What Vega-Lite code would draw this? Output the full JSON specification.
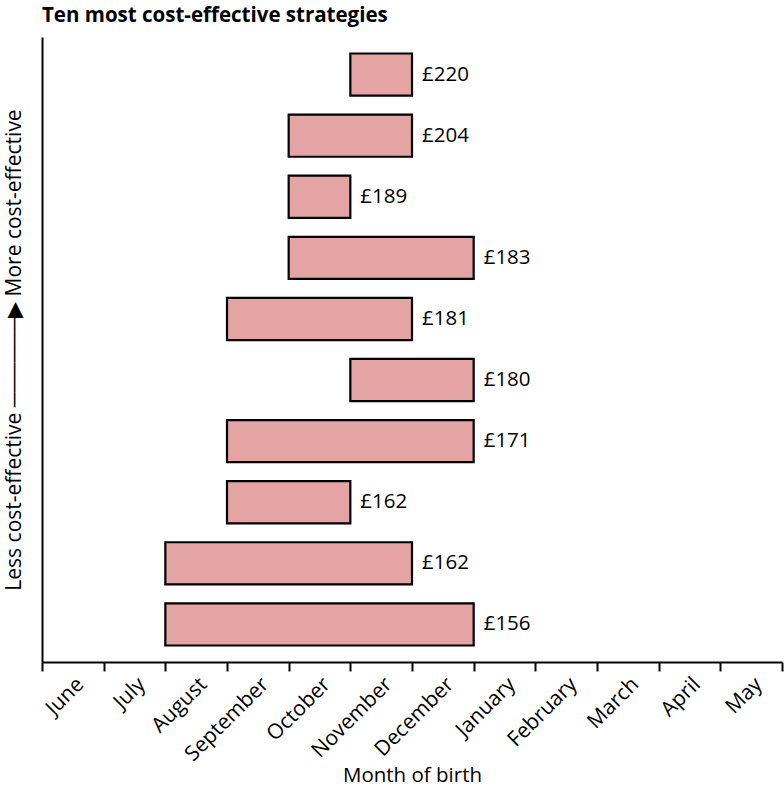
{
  "$schema": "https://vega.github.io/schema/vega-lite/v6.json",
  "width": 740,
  "height": 625,
  "autosize": "none",
  "padding": {"left": 42, "top": 37, "right": 2, "bottom": 128},
  "background": "white",
  "title": {"text": "Ten most cost-effective strategies", "anchor": "start", "frame": "group", "fontSize": 20.5, "font": "Open Sans", "fontWeight": "bold", "offset": 11, "color": "black"},
  "config": {"view": {"stroke": null}, "font": "Open Sans"},
  "data": {"values": [
    {"rank": 1, "cost": "£220", "start": 5, "end": 6},
    {"rank": 2, "cost": "£204", "start": 4, "end": 6},
    {"rank": 3, "cost": "£189", "start": 4, "end": 5},
    {"rank": 4, "cost": "£183", "start": 4, "end": 7},
    {"rank": 5, "cost": "£181", "start": 3, "end": 6},
    {"rank": 6, "cost": "£180", "start": 5, "end": 7},
    {"rank": 7, "cost": "£171", "start": 3, "end": 7},
    {"rank": 8, "cost": "£162", "start": 3, "end": 5},
    {"rank": 9, "cost": "£162", "start": 2, "end": 6},
    {"rank": 10, "cost": "£156", "start": 2, "end": 7}
  ]},
  "encoding": {
    "y": {"field": "rank", "type": "ordinal", "scale": {"paddingInner": 0.31, "paddingOuter": 0.27},
      "axis": {"title": "Less cost-effective  ──────▶  More cost-effective", "labels": false, "ticks": false, "domainColor": "black", "domainWidth": 2, "titleFontSize": 21, "titleFontWeight": "normal", "titleColor": "black", "titlePadding": 18}},
    "x": {"field": "start", "type": "quantitative", "scale": {"domain": [0, 12], "nice": false, "zero": false},
      "axis": {"values": [0,1,2,3,4,5,6,7,8,9,10,11,12], "labelExpr": "['June','July','August','September','October','November','December','January','February','March','April','May',''][datum.value]", "labelAngle": -45, "labelAlign": "right", "labelBaseline": "middle", "labelOffset": 38, "labelPadding": 10, "labelFontSize": 21, "labelColor": "black", "labelFlush": false, "labelOverlap": false, "labelBound": false, "tickSize": 9, "tickWidth": 2, "tickColor": "black", "domainColor": "black", "domainWidth": 2, "grid": false, "title": "Month of birth", "titleFontSize": 20.5, "titleFontWeight": "normal", "titleColor": "black", "titlePadding": 1}}
  },
  "layer": [
    {"mark": {"type": "bar", "fill": "#E3A4A3", "stroke": "black", "strokeWidth": 2.2}, "encoding": {"x2": {"field": "end"}}},
    {"mark": {"type": "text", "align": "left", "baseline": "middle", "dx": 10, "fontSize": 20.5, "color": "black"}, "encoding": {"x": {"field": "end", "type": "quantitative"}, "text": {"field": "cost"}}}
  ]
}
